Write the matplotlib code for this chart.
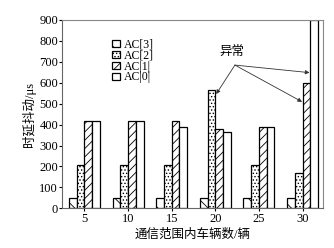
import numpy as np
import matplotlib
matplotlib.use('Agg')
from matplotlib import pyplot as plt

# Data
vehicles = ['5', '10', '15', '20', '25', '30']
ac3 = [52, 52, 52, 52, 52, 52]
ac2 = [208, 208, 208, 562, 208, 170]
ac1 = [415, 415, 415, 378, 390, 598]
ac0 = [415, 415, 390, 362, 390, 900]
series_names = ['AC[3]', 'AC[2]', 'AC|1|', 'AC|0|']
hatches = ['\\\\', '.....', '////', '']

plt.rcParams['font.family'] = ['Liberation Serif', 'Noto Sans CJK SC']
plt.rcParams['hatch.linewidth'] = 0.6
plt.rcParams['axes.unicode_minus'] = False

fig = plt.figure(figsize=(3.34, 2.48), dpi=100)
ax = fig.add_axes([0.1865, 0.1593, 0.7815, 0.762])

x = np.arange(1, len(vehicles) + 1)
width = 0.178
series = [ac3, ac2, ac1, ac0]
for i, vals in enumerate(series):
    ax.bar(x + (i - 1.5) * width, vals, width, facecolor='white', edgecolor='black',
           linewidth=0.9, hatch=hatches[i], label=series_names[i])

ax.set_xlim(0.491, 6.477)
ax.set_ylim(0, 900)
ax.set_yticks(np.arange(0, 901, 100))
ax.set_xticks(x)
ax.set_xticklabels(vehicles)
ax.tick_params(axis='both', labelsize=9, length=2, width=0.8, pad=1)
for s in ['top', 'right']:
    ax.spines[s].set_color('#888888')
for s in ['left', 'bottom']:
    ax.spines[s].set_color('#666666')

ax.set_ylabel('时延抖动/μs', fontsize=9, labelpad=2)
ax.set_xlabel('通信范围内车辆数/辆', fontsize=9, labelpad=3)

ax.legend(loc='upper left', bbox_to_anchor=(0.165, 0.935), frameon=False, fontsize=8.5,
          handlelength=0.6, handleheight=0.55, handletextpad=0.35, labelspacing=-0.1,
          borderpad=0.1)

# annotation arrows
ax.text(4.37, 718, '异常', fontsize=9, ha='center', va='bottom')
origin = (4.45, 683)
targets = [(4.02, 545), (6.16, 647), (5.99, 508)]
for tx, ty in targets:
    ax.annotate('', xy=(tx, ty), xytext=origin,
                arrowprops=dict(arrowstyle='-|>', color='#333333', lw=0.6,
                                mutation_scale=6, shrinkA=0, shrinkB=0))

fig.savefig('out.png', dpi=100)
